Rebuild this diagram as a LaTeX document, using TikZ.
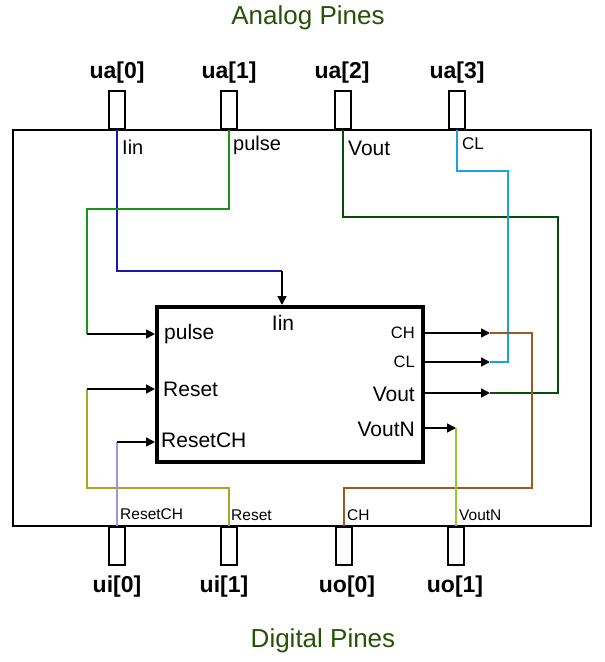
\documentclass[tikz,border=0pt]{standalone}
\usepackage{fontspec}
\setmainfont{Liberation Sans}
\usetikzlibrary{arrows.meta}
\definecolor{titlegreen}{RGB}{38,82,6}
\definecolor{wIin}{RGB}{26,26,170}
\definecolor{wPulse}{RGB}{22,150,22}
\definecolor{wVout}{RGB}{10,75,10}
\definecolor{wCL}{RGB}{27,161,226}
\definecolor{wCH}{RGB}{155,90,30}
\definecolor{wVoutN}{RGB}{150,200,50}
\definecolor{wReset}{RGB}{170,165,35}
\definecolor{wResetCH}{RGB}{150,150,235}
\newcommand{\fsz}[1]{\fontsize{#1}{#1}\selectfont}
\begin{document}
\begin{tikzpicture}[x=1pt,y=-1pt,
  pinbox/.style={draw, line width=2pt, fill=white, minimum width=16pt,
    minimum height=38pt, inner sep=0pt},
  pinlabel/.style={font=\fsz{23}\bfseries, inner sep=0pt},
  title/.style={font=\fsz{26}, text=titlegreen, inner sep=0pt},
  wire/.style={line width=2pt},
  arr/.style={line width=1.6pt, -{Triangle[length=9pt,width=9pt]}},
  inlabel/.style={font=\fsz{21}, inner sep=0pt},
  smallin/.style={font=\fsz{16.5}, inner sep=0pt},
  toplabel/.style={font=\fsz{20}, inner sep=0pt, anchor=west},
  botlabel/.style={font=\fsz{15.5}, inner sep=0pt, anchor=west}]
\useasboundingbox (0,0) rectangle (605,662);

% titles
\node[title] (tAnalog) at (308,18) {Analog Pines};
\node[title] (tDigital) at (323,641) {Digital Pines};

% chip outline
\draw[line width=1.5pt] (13,130) rectangle (591,526);

% top pins
\node[pinbox] (ua0) at (117,110) {};
\node[pinbox] (ua1) at (229,110) {};
\node[pinbox] (ua2) at (343,110) {};
\node[pinbox] (ua3) at (457,110) {};
\node[pinlabel] (lua0) at (117,73) {ua[0]};
\node[pinlabel] (lua1) at (229,73) {ua[1]};
\node[pinlabel] (lua2) at (342,73) {ua[2]};
\node[pinlabel] (lua3) at (457,73) {ua[3]};

% bottom pins
\node[pinbox] (ui0) at (117,546) {};
\node[pinbox] (ui1) at (229,546) {};
\node[pinbox] (uo0) at (344,546) {};
\node[pinbox] (uo1) at (456,546) {};
\node[pinlabel] (lui0) at (117,587) {ui[0]};
\node[pinlabel] (lui1) at (224,587) {ui[1]};
\node[pinlabel] (luo0) at (347,587) {uo[0]};
\node[pinlabel] (luo1) at (455,587) {uo[1]};

% central block
\node[draw, line width=4pt, fill=white, minimum width=266pt, minimum height=155pt,
  inner sep=0pt] (blk) at (290,384.5) {};
\node[inlabel, anchor=west] (bPulse) at (164,334) {pulse};
\node[inlabel, anchor=west] (bReset) at (163,389) {Reset};
\node[inlabel, anchor=west] (bResetCH) at (161,440) {ResetCH};
\node[inlabel] (bIin) at (283,323) {Iin};
\node[smallin, anchor=east] (bCH) at (415,333) {CH};
\node[smallin, anchor=east] (bCL) at (415,362) {CL};
\node[inlabel, anchor=east] (bVout) at (415,394) {Vout};
\node[inlabel, anchor=east] (bVoutN) at (415,429) {VoutN};

% wire end points
\coordinate (cIin) at (282,271);
\coordinate (cPulse) at (87,334);
\coordinate (cReset) at (87,389);
\coordinate (cResetCH) at (117,442);
\coordinate (cCH) at (490,333);
\coordinate (cCL) at (490,362);
\coordinate (cVout) at (490,393);
\coordinate (cVoutN) at (456,428);

% coloured wires
\draw[wire, wIin] (ua0.south) |- (cIin);
\draw[wire, wPulse] (ua1.south) |- (87,209) -- (cPulse);
\draw[wire, wVout] (ua2.south) |- (558,217) |- (cVout);
\draw[wire, wCL] (ua3.south) |- (508,171) |- (cCL);
\draw[wire, wCH] (uo0.north) |- (532,488) |- (cCH);
\draw[wire, wVoutN] (uo1.north) -- (cVoutN);
\draw[wire, wReset] (ui1.north) |- (87,488) -- (cReset);
\draw[wire, wResetCH] (ui0.north) -- (cResetCH);

% block ports
\draw[arr] (cIin) -- (cIin |- blk.north);
\draw[arr] (cPulse) -- (cPulse -| blk.west);
\draw[arr] (cReset) -- (cReset -| blk.west);
\draw[arr] (cResetCH) -- (cResetCH -| blk.west);
\draw[arr] (cCH -| blk.east) -- (cCH);
\draw[arr] (cCL -| blk.east) -- (cCL);
\draw[arr] (cVout -| blk.east) -- (cVout);
\draw[arr] (cVoutN -| blk.east) -- (cVoutN);

% wire names
\node[toplabel] (nIin) at (122,147) {Iin};
\node[toplabel] (nPulse) at (233,145) {pulse};
\node[toplabel, font=\fsz{21}] (nVout) at (348,148) {Vout};
\node[toplabel, font=\fsz{17}] (nCL) at (462,144) {CL};
\node[botlabel] (nResetCH) at (120,514) {ResetCH};
\node[botlabel] (nReset) at (231,515) {Reset};
\node[botlabel] (nCH) at (347,515) {CH};
\node[botlabel] (nVoutN) at (459,515) {VoutN};
\end{tikzpicture}
\end{document}
